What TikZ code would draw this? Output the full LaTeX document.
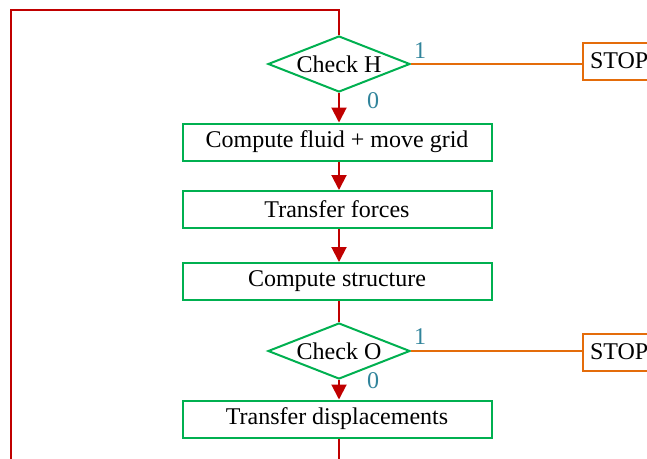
\documentclass[tikz,border=0pt]{standalone}
\usepackage{fontspec}
\setmainfont{Liberation Serif}
\usetikzlibrary{shapes.geometric,arrows.meta}
\definecolor{bgreen}{HTML}{00B050}
\definecolor{borange}{HTML}{E46C0A}
\definecolor{bred}{HTML}{C00000}
\definecolor{bteal}{HTML}{31849B}
\begin{document}
\begin{tikzpicture}[x=1pt,y=-1pt,
  every node/.style={font=\fontsize{24}{28}\selectfont},
  procbox/.style={draw=bgreen,line width=2pt,rectangle,minimum width=309pt,minimum height=37pt,inner sep=0pt},
  decbox/.style={draw=bgreen,line width=2pt,diamond,aspect=2.5,minimum width=142pt,minimum height=56pt,inner sep=0pt},
  stopbox/.style={draw=borange,line width=2pt,rectangle,minimum height=37pt,inner xsep=7pt,inner ysep=0pt,anchor=west},
  flow/.style={draw=bred,line width=2pt,-{Triangle[width=15pt,length=15pt]}},
  loopline/.style={draw=bred,line width=2pt},
  exitline/.style={draw=borange,line width=2pt},
  lbl/.style={text=bteal,inner sep=0pt}]
\useasboundingbox (0,0) rectangle (647,458);
\clip (0,0) rectangle (647,458);
\node[decbox] (chkH) at (339,64) {Check H};
\node[procbox] (cf) at (337,142) {Compute fluid + move grid};
\node[procbox] (tf) at (337,209.5) {Transfer forces};
\node[procbox] (cs) at (337,281.5) {Compute structure};
\node[decbox] (chkO) at (339,351) {Check O};
\node[procbox] (td) at (337,419) {Transfer displacements};
\node[stopbox] (s1) at (582,61) {STOP};
\node[stopbox] (s2) at (582,352) {STOP};
\node[lbl] (l1a) at (420,51) {1};
\node[lbl] (l0a) at (373,101) {0};
\node[lbl] (l1b) at (420,337) {1};
\node[lbl] (l0b) at (373,381) {0};
\draw[flow] (chkH.south) -- (chkH.south |- cf.north);
\draw[flow] (cf.south -| chkH.south) -- (tf.north -| chkH.south);
\draw[flow] (tf.south -| chkH.south) -- (cs.north -| chkH.south);
\draw[loopline] (cs.south -| chkO.north) -- (chkO.north);
\draw[flow] (chkO.south) -- (chkO.south |- td.north);
\draw[exitline] (chkH.east) -- (chkH.east -| s1.west);
\draw[exitline] (chkO.east) -- (chkO.east -| s2.west);
\coordinate (tdx) at (td.south -| chkH.south);
\coordinate (lb) at (11,480);
\coordinate (lt) at (11,10);
\draw[loopline] (tdx) |- (lb) -- (lt) -| (chkH.north);
\end{tikzpicture}
\end{document}
